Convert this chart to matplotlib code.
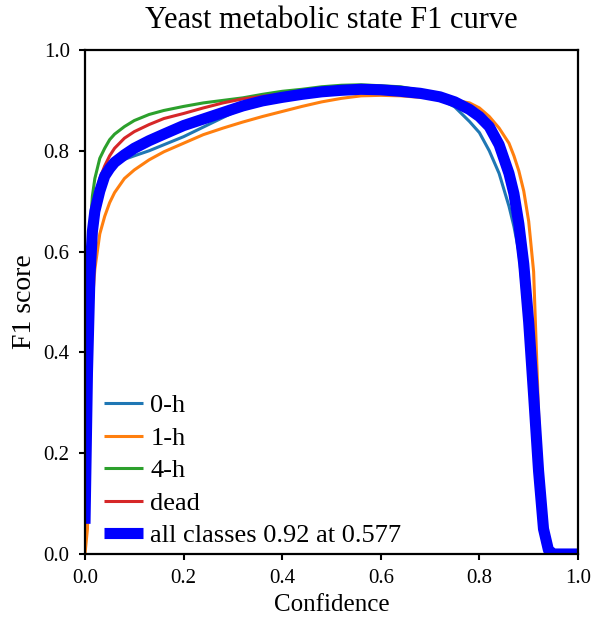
import matplotlib
matplotlib.use('Agg')
import matplotlib.pyplot as plt

# Confidence grid
conf = [0.0, 0.005, 0.01, 0.015, 0.02, 0.03, 0.04, 0.05, 0.06, 0.08,
        0.10, 0.13, 0.16, 0.20, 0.24, 0.28, 0.32, 0.36, 0.40, 0.44,
        0.48, 0.52, 0.56, 0.60, 0.64, 0.68, 0.72, 0.75, 0.78, 0.80,
        0.82, 0.84, 0.86, 0.87, 0.88, 0.89, 0.90, 0.91, 0.92, 0.93,
        0.94, 0.95, 1.0]

f1_0h = [0.06, 0.36, 0.55, 0.64, 0.68, 0.72, 0.75, 0.765, 0.775, 0.783,
         0.79, 0.80, 0.812, 0.828, 0.847, 0.866, 0.885, 0.898, 0.910, 0.917,
         0.924, 0.928, 0.929, 0.927, 0.922, 0.915, 0.903, 0.887, 0.858, 0.836,
         0.800, 0.755, 0.69, 0.65, 0.60, 0.50, 0.40, 0.28, 0.14, 0.035,
         0.005, 0.0, 0.0]

f1_1h = [0.0, 0.05, 0.30, 0.50, 0.565, 0.635, 0.67, 0.697, 0.717, 0.745,
         0.762, 0.782, 0.798, 0.815, 0.832, 0.845, 0.857, 0.868, 0.878, 0.888,
         0.897, 0.904, 0.909, 0.910, 0.909, 0.906, 0.905, 0.900, 0.895, 0.885,
         0.868, 0.845, 0.815, 0.79, 0.76, 0.72, 0.66, 0.56, 0.28, 0.04,
         0.0, 0.0, 0.0]

f1_4h = [0.07, 0.45, 0.64, 0.71, 0.745, 0.785, 0.805, 0.822, 0.833, 0.848,
         0.860, 0.872, 0.880, 0.888, 0.895, 0.900, 0.905, 0.912, 0.918, 0.922,
         0.927, 0.930, 0.931, 0.929, 0.927, 0.920, 0.910, 0.900, 0.885, 0.872,
         0.852, 0.818, 0.762, 0.725, 0.668, 0.59, 0.48, 0.335, 0.18, 0.06,
         0.01, 0.0, 0.0]

f1_dead = [0.06, 0.38, 0.58, 0.66, 0.70, 0.745, 0.770, 0.79, 0.805, 0.825,
           0.838, 0.852, 0.864, 0.874, 0.885, 0.895, 0.903, 0.908, 0.913, 0.917,
           0.920, 0.922, 0.924, 0.923, 0.920, 0.915, 0.907, 0.897, 0.882, 0.868,
           0.846, 0.81, 0.75, 0.705, 0.64, 0.555, 0.43, 0.28, 0.12, 0.02,
           0.0, 0.0, 0.0]

f1_all = [0.06, 0.36, 0.55, 0.64, 0.68, 0.72, 0.75, 0.765, 0.777, 0.792,
          0.805, 0.82, 0.833, 0.85, 0.863, 0.876, 0.889, 0.899, 0.906, 0.912,
          0.917, 0.920, 0.922, 0.921, 0.918, 0.914, 0.907, 0.897, 0.882, 0.868,
          0.848, 0.812, 0.755, 0.715, 0.655, 0.575, 0.46, 0.315, 0.165, 0.05,
          0.008, 0.0, 0.0]

classes = ['0-h', '1-h', '4-h', 'dead']
class_colors = ['#1f77b4', '#ff7f0e', '#2ca02c', '#d62728']
all_label = 'all classes 0.92 at 0.577'

plt.rcParams['font.family'] = ['Liberation Serif', 'DejaVu Serif']

fig = plt.figure(figsize=(5.96, 6.17), dpi=100)
ax = fig.add_axes([0.1426, 0.1021, 0.8272, 0.8169])

for name, col, ys in zip(classes, class_colors, [f1_0h, f1_1h, f1_4h, f1_dead]):
    ax.plot(conf, ys, color=col, linewidth=2.2, label=name, solid_capstyle='butt')
ax.plot(conf, f1_all, color='blue', linewidth=8, label=all_label, solid_capstyle='butt')

ax.set_xlim(0, 1)
ax.set_ylim(0, 1)
ax.set_xticks([0, 0.2, 0.4, 0.6, 0.8, 1.0])
ax.set_yticks([0, 0.2, 0.4, 0.6, 0.8, 1.0])
ax.tick_params(labelsize=15, length=4, width=1.5, pad=7)
for s in ax.spines.values():
    s.set_linewidth(1.6)

ax.set_xlabel('Confidence', fontsize=18, labelpad=4)
ax.set_ylabel('F1 score', fontsize=20, labelpad=5)
ax.set_title('Yeast metabolic state F1 curve', fontsize=22, pad=16)
ax.legend(loc='lower left', bbox_to_anchor=(0.027, 0.003), frameon=False,
          fontsize=19, handlelength=1.5, handletextpad=0.27,
          labelspacing=0.34, borderaxespad=0, borderpad=0.2)

fig.savefig('out.png', dpi=100)
